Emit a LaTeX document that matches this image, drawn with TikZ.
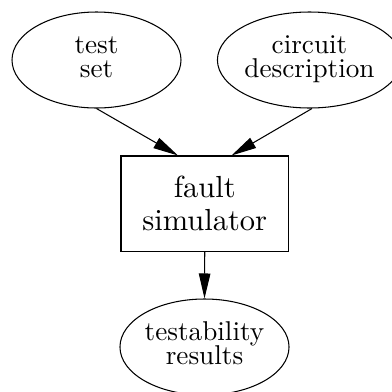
\documentclass[tikz,border=0pt]{standalone}
\usepackage{graphicx}
\usetikzlibrary{arrows.meta,shapes.geometric}

% two centred lines of 10pt Latin Modern, scaled up as one block
% #1 scale, #2 baseline skip, #3 top strut, #4 bottom strut depth, #5/#6 the lines
\newcommand\twolines[6]{%
  \scalebox{#1}{\vbox{\fontsize{10}{#2}\selectfont\lineskiplimit=-20pt\lineskip=0pt
    \halign{\hfil##\hfil\cr \rule{0pt}{#3}#5\cr \rule[-#4]{0pt}{#4}#6\cr}}}}
\newcommand\elltext[2]{\twolines{2.72}{8.8pt}{7pt}{3.3pt}{#1}{#2}}
\newcommand\boxtext[2]{\twolines{3.05}{10.7pt}{7pt}{0.45pt}{#1}{#2}}

\tikzset{
  datanode/.style={draw, ellipse, line width=1.05pt, inner sep=0pt},
  procnode/.style={draw, rectangle, line width=1.05pt, inner sep=0pt,
                   minimum width=167.5pt, minimum height=95.5pt},
  flow/.style={line width=1.05pt, -{Triangle[length=25pt,width=11.5pt]}}
}

\begin{document}
\begin{tikzpicture}[x=1pt,y=1pt]
  \clip (0,0) rectangle (392,-392);

  \node[datanode, minimum width=169pt, minimum height=96pt] (test) at (96.5,-60) {\elltext{test}{set}};
  \node[datanode, minimum width=162.8pt, minimum height=96pt] (circ) at (309.5,-60) {\elltext{circuit}{description}};
  \node[procnode] (sim) at (204.75,-203.75) {\boxtext{fault}{simulator}};
  \node[datanode, minimum width=168pt, minimum height=96pt] (res) at (204.5,-347) {\elltext{testability}{results}};

  \draw[flow] (test.south) -- (sim.119);
  \draw[flow] (circ.-87) -- (sim.61);
  \draw[flow] (sim.south) -- (res.north);
\end{tikzpicture}
\end{document}
